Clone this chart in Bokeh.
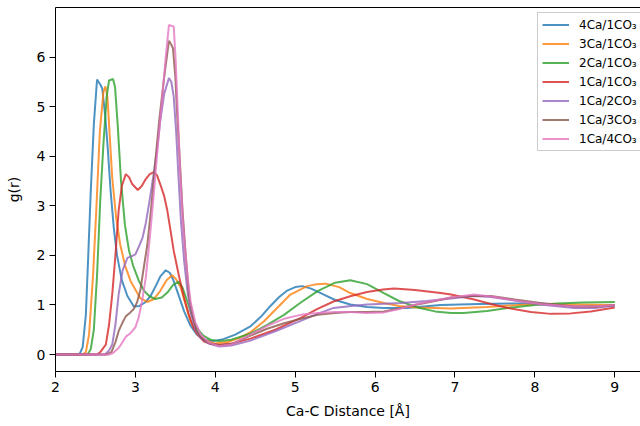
from bokeh.plotting import figure
from bokeh.models import Range1d, Legend, LegendItem, FixedTicker, LinearAxis
from bokeh.embed import file_html
from bokeh.resources import INLINE

# ---- data ----
labels = ["4Ca/1CO₃", "3Ca/1CO₃", "2Ca/1CO₃", "1Ca/1CO₃", "1Ca/2CO₃", "1Ca/3CO₃", "1Ca/4CO₃"]
x_ticks = [2, 3, 4, 5, 6, 7, 8, 9]
y_ticks = [0, 1, 2, 3, 4, 5, 6]

x_4ca1co3 = [2.0, 2.30, 2.34, 2.38, 2.41, 2.44, 2.48, 2.52, 2.56, 2.585, 2.62, 2.65, 2.69, 2.73, 2.77, 2.83, 2.90,
             2.98, 3.05, 3.12, 3.19, 3.26, 3.31, 3.38, 3.43, 3.47, 3.53, 3.61, 3.69, 3.77, 3.87, 3.97, 4.1, 4.25,
             4.44, 4.57, 4.69, 4.8, 4.9, 5.0, 5.09, 5.2, 5.32, 5.5, 5.69, 5.9, 6.11, 6.4, 6.82, 7.3, 7.7, 8.07,
             8.49, 9.0]
y_4ca1co3 = [0, 0, 0.15, 0.8, 2.0, 3.24, 4.65, 5.55, 5.45, 5.37, 4.85, 4.25, 3.3, 2.55, 2.0, 1.5, 1.18,
             0.97, 0.98, 1.05, 1.18, 1.40, 1.57, 1.70, 1.65, 1.52, 1.25, 0.87, 0.58, 0.40, 0.30, 0.27, 0.31, 0.40,
             0.57, 0.76, 0.98, 1.16, 1.29, 1.36, 1.38, 1.33, 1.24, 1.10, 1.01, 0.96, 0.94, 0.94, 1.00, 1.02, 1.03, 1.03,
             0.97, 0.99]

x_3ca1co3 = [2.0, 2.34, 2.38, 2.42, 2.47, 2.51, 2.555, 2.60, 2.625, 2.65, 2.71, 2.76, 2.81, 2.87, 2.94, 3.06, 3.15,
             3.23, 3.31, 3.39, 3.46, 3.51, 3.57, 3.63, 3.69, 3.77, 3.86, 4.0, 4.15, 4.3, 4.44, 4.61, 4.78, 4.94,
             5.15, 5.27, 5.38, 5.55, 5.69, 5.9, 6.11, 6.3, 6.53, 6.95, 7.4, 7.8, 8.07, 8.5, 9.0]
y_3ca1co3 = [0, 0, 0.05, 0.4, 1.6, 2.9, 4.5, 5.3, 5.41, 5.2, 3.57, 2.75, 2.22, 1.8, 1.48, 1.14, 1.06,
             1.12, 1.28, 1.50, 1.60, 1.52, 1.34, 1.0, 0.67, 0.42, 0.30, 0.22, 0.25, 0.33, 0.45, 0.67, 0.95, 1.21,
             1.38, 1.42, 1.43, 1.36, 1.24, 1.12, 1.04, 0.98, 0.95, 0.93, 0.96, 1.0, 1.02, 1.01, 1.0]

x_2ca1co3 = [2.0, 2.40, 2.44, 2.48, 2.52, 2.56, 2.60, 2.64, 2.67, 2.72, 2.745, 2.78, 2.82, 2.87, 2.92, 2.97, 3.04,
             3.11, 3.18, 3.25, 3.33, 3.40, 3.47, 3.54, 3.59, 3.65, 3.71, 3.77, 3.85, 3.94, 4.05, 4.2, 4.44, 4.65,
             4.86, 5.07, 5.28, 5.5, 5.69, 5.9, 6.11, 6.3, 6.53, 6.75, 6.95, 7.11, 7.4, 7.66, 8.0, 8.28, 8.6, 9.0]
y_2ca1co3 = [0, 0, 0.1, 0.5, 1.6, 3.1, 4.25, 5.2, 5.53, 5.56, 5.4, 4.6, 3.5, 2.6, 2.1, 1.8, 1.5,
             1.28, 1.17, 1.12, 1.15, 1.25, 1.40, 1.47, 1.35, 1.07, 0.78, 0.53, 0.38, 0.30, 0.27, 0.30, 0.42, 0.6,
             0.80, 1.05, 1.28, 1.45, 1.50, 1.42, 1.24, 1.08, 0.95, 0.87, 0.84, 0.84, 0.88, 0.94, 1.0, 1.03, 1.05, 1.06]

x_1ca1co3 = [2.0, 2.52, 2.56, 2.63, 2.67, 2.71, 2.75, 2.79, 2.83, 2.88, 2.92, 2.96, 3.03, 3.08, 3.13, 3.18, 3.23,
             3.27, 3.31, 3.36, 3.40, 3.44, 3.48, 3.55, 3.61, 3.67, 3.73, 3.80, 3.86, 3.95, 4.05, 4.2, 4.44, 4.75,
             5.07, 5.28, 5.48, 5.7, 5.9, 6.1, 6.24, 6.5, 6.82, 6.95, 7.24, 7.45, 7.66, 7.95, 8.2, 8.45, 8.7, 9.0]
y_1ca1co3 = [0, 0, 0.05, 0.2, 0.6, 1.21, 2.0, 2.9, 3.4, 3.64, 3.58, 3.44, 3.32, 3.40, 3.54, 3.64, 3.68,
             3.62, 3.44, 3.2, 2.9, 2.5, 2.09, 1.55, 1.14, 0.8, 0.53, 0.36, 0.26, 0.21, 0.19, 0.22, 0.32, 0.5,
             0.74, 0.92, 1.07, 1.18, 1.26, 1.31, 1.33, 1.30, 1.24, 1.21, 1.11, 1.02, 0.94, 0.86, 0.82, 0.83, 0.87, 0.95]

x_1ca2co3 = [2.0, 2.62, 2.67, 2.71, 2.75, 2.79, 2.84, 2.90, 2.95, 3.0, 3.05, 3.09, 3.13, 3.17, 3.22, 3.27, 3.31,
             3.36, 3.42, 3.45, 3.48, 3.51, 3.54, 3.57, 3.61, 3.65, 3.69, 3.75, 3.82, 3.92, 4.05, 4.2, 4.44, 4.75,
             5.07, 5.28, 5.48, 5.7, 5.9, 6.32, 6.65, 6.95, 7.24, 7.45, 7.66, 8.07, 8.49, 8.75, 9.0]
y_1ca2co3 = [0, 0, 0.08, 0.2, 0.6, 1.21, 1.7, 1.95, 1.98, 2.02, 2.2, 2.36, 2.65, 3.03, 3.55, 4.12, 4.7,
             5.26, 5.58, 5.5, 5.2, 4.5, 3.57, 2.7, 1.89, 1.3, 0.87, 0.5, 0.33, 0.22, 0.16, 0.18, 0.28, 0.47,
             0.68, 0.82, 0.94, 0.98, 1.01, 1.04, 1.08, 1.13, 1.18, 1.16, 1.11, 1.01, 0.94, 0.94, 0.99]

x_1ca3co3 = [2.0, 2.64, 2.70, 2.75, 2.79, 2.84, 2.88, 2.93, 2.98, 3.02, 3.06, 3.10, 3.15, 3.20, 3.25, 3.30, 3.36,
             3.42, 3.45, 3.47, 3.50, 3.52, 3.56, 3.59, 3.63, 3.67, 3.72, 3.77, 3.85, 3.94, 4.05, 4.2, 4.44, 4.65,
             4.86, 5.07, 5.28, 5.5, 5.69, 5.9, 6.11, 6.3, 6.53, 6.75, 6.95, 7.2, 7.45, 7.75, 8.07, 8.49, 8.75, 9.0]
y_1ca3co3 = [0, 0, 0.05, 0.25, 0.47, 0.65, 0.77, 0.84, 0.92, 1.05, 1.28, 1.7, 2.22, 3.0, 3.91, 4.75, 5.60,
             6.33, 6.25, 6.18, 5.6, 4.93, 3.8, 2.9, 2.0, 1.21, 0.75, 0.47, 0.30, 0.22, 0.19, 0.21, 0.38, 0.52,
             0.63, 0.72, 0.80, 0.84, 0.86, 0.86, 0.87, 0.93, 1.01, 1.08, 1.15, 1.18, 1.18, 1.11, 1.04, 0.97, 0.96, 1.0]

x_1ca4co3 = [2.0, 2.67, 2.72, 2.79, 2.84, 2.88, 2.93, 2.96, 3.0, 3.04, 3.08, 3.13, 3.18, 3.23, 3.28, 3.34, 3.38,
             3.42, 3.455, 3.48, 3.505, 3.53, 3.56, 3.60, 3.645, 3.69, 3.75, 3.82, 3.92, 4.05, 4.2, 4.44, 4.65,
             4.86, 5.07, 5.28, 5.5, 5.69, 5.9, 6.11, 6.3, 6.53, 6.75, 6.95, 7.24, 7.5, 7.8, 8.07, 8.49, 8.75, 9.0]
y_1ca4co3 = [0, 0, 0.03, 0.13, 0.25, 0.36, 0.42, 0.47, 0.55, 0.74, 1.05, 1.55, 2.35, 3.24, 4.2, 5.26, 6.0,
             6.65, 6.63, 6.62, 5.9, 4.93, 3.7, 2.56, 1.7, 1.07, 0.65, 0.40, 0.24, 0.17, 0.20, 0.40, 0.58,
             0.72, 0.80, 0.84, 0.86, 0.86, 0.84, 0.85, 0.92, 1.02, 1.09, 1.15, 1.21, 1.16, 1.08, 1.02, 0.97, 0.97, 1.0]

series_x = [x_4ca1co3, x_3ca1co3, x_2ca1co3, x_1ca1co3, x_1ca2co3, x_1ca3co3, x_1ca4co3]
series_y = [y_4ca1co3, y_3ca1co3, y_2ca1co3, y_1ca1co3, y_1ca2co3, y_1ca3co3, y_1ca4co3]
colors = ["#1f77b4", "#ff7f0e", "#2ca02c", "#d62728", "#9467bd", "#8c564b", "#e377c2"]

FONT = "DejaVu Sans"

p = figure(width=640, height=426, output_backend="svg", toolbar_location=None,
           x_range=Range1d(2, 9.322), y_range=Range1d(-0.343, 7.003),
           min_border_left=55, min_border_right=0, min_border_top=7, min_border_bottom=55)

p.xgrid.visible = False
p.ygrid.visible = False
p.outline_line_color = None

items = []
for xs, ys, c, lab in zip(series_x, series_y, colors, labels):
    r = p.line(xs, ys, line_color=c, line_width=2, line_alpha=0.8)
    items.append(LegendItem(label=lab, renderers=[r]))

for ax in (p.xaxis[0], p.yaxis[0]):
    ax.axis_line_color = "black"
    ax.major_tick_line_color = "black"
    ax.major_tick_out = 6
    ax.major_tick_in = 0
    ax.minor_tick_out = 0
    ax.minor_tick_in = 0
    ax.major_label_text_font = FONT
    ax.major_label_text_font_size = "14px"
    ax.major_label_text_color = "black"
    ax.axis_label_text_font = FONT
    ax.axis_label_text_font_size = "14px"
    ax.axis_label_text_font_style = "normal"
    ax.axis_label_text_color = "black"

p.xaxis.ticker = FixedTicker(ticks=x_ticks)
p.yaxis.ticker = FixedTicker(ticks=y_ticks)
p.xaxis.axis_label = "Ca-C Distance [Å]"
p.yaxis.axis_label = "g(r)"
p.xaxis.major_label_standoff = 4
p.xaxis.axis_label_standoff = 8
p.yaxis.major_label_standoff = 4
p.yaxis.axis_label_standoff = 12

# top spine (the right spine lies outside the picture in the reference)
top = LinearAxis(ticker=FixedTicker(ticks=[]), axis_line_color="black",
                 major_tick_out=0, major_tick_in=0, minor_tick_out=0, minor_tick_in=0,
                 major_label_text_font_size="0px", major_label_standoff=0)
p.add_layout(top, "above")

legend = Legend(items=items, location=(482, 220))
legend.margin = 0
legend.padding = 4
legend.spacing = 4
legend.glyph_height = 15
legend.label_height = 15
legend.glyph_width = 27
legend.label_standoff = 10
legend.label_text_font = FONT
legend.label_text_font_size = "12px"
legend.label_text_color = "black"
legend.border_line_color = "#cccccc"
legend.border_line_alpha = 1
legend.background_fill_alpha = 0.8
p.add_layout(legend)

open("out.html", "w").write(file_html(p, INLINE))
